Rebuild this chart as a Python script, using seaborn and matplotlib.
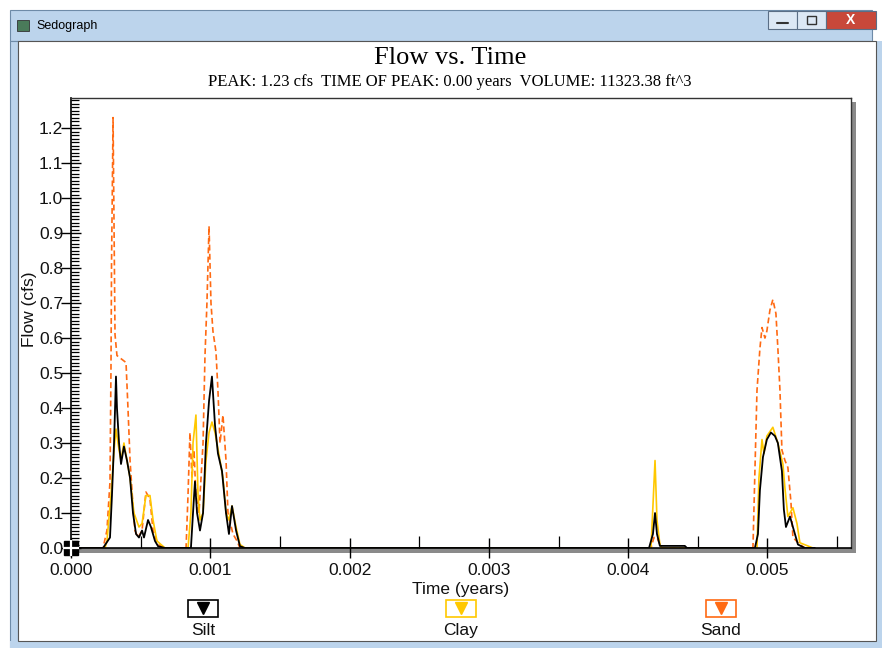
import numpy as np
import pandas as pd
import matplotlib
matplotlib.use("Agg")
import matplotlib.pyplot as plt
import seaborn as sns
from matplotlib.patches import Rectangle
from matplotlib.lines import Line2D
from matplotlib.ticker import MultipleLocator, FormatStrFormatter

# ---------------- data ----------------
silt_t = [0, 0.000230, 0.000280, 0.000294, 0.000309, 0.000323, 0.000330, 0.000345, 0.000359, 0.000380,
          0.000402, 0.000424, 0.000445, 0.000467, 0.000488, 0.000510, 0.000524, 0.000553, 0.000574,
          0.000603, 0.000625, 0.000675,
          0.000861, 0.000876, 0.000890, 0.000905, 0.000926, 0.000948, 0.000969, 0.000991, 0.001012,
          0.001034, 0.001055, 0.001084, 0.001113, 0.001134, 0.001156, 0.001185, 0.001213, 0.001249,
          0.004150, 0.004178, 0.004193, 0.004207, 0.004228, 0.004407, 0.004422,
          0.004910, 0.004932, 0.004946, 0.004968, 0.004996, 0.005025, 0.005054, 0.005075, 0.005104,
          0.005118, 0.005133, 0.005162, 0.005183, 0.005219, 0.005269, 0.005340]
silt_q = [0, 0, 0.03, 0.15, 0.30, 0.49, 0.40, 0.30, 0.24, 0.29,
          0.25, 0.20, 0.10, 0.04, 0.03, 0.05, 0.03, 0.08, 0.06,
          0.02, 0.005, 0,
          0, 0.10, 0.19, 0.10, 0.05, 0.10, 0.30, 0.42, 0.49,
          0.35, 0.27, 0.22, 0.10, 0.04, 0.12, 0.05, 0.005, 0,
          0, 0.04, 0.10, 0.04, 0.006, 0.006, 0,
          0, 0.04, 0.165, 0.26, 0.31, 0.33, 0.32, 0.30, 0.22,
          0.11, 0.06, 0.09, 0.06, 0.01, 0, 0]

clay_t = [0, 0.000244, 0.000258, 0.000287, 0.000309, 0.000323, 0.000345, 0.000359, 0.000380, 0.000424,
          0.000452, 0.000488, 0.000510, 0.000538, 0.000567, 0.000589, 0.000617, 0.000675,
          0.000840, 0.000861, 0.000876, 0.000897, 0.000912, 0.000926, 0.000948, 0.000969, 0.000991,
          0.001012, 0.001034, 0.001070, 0.001091, 0.001113, 0.001134, 0.001156, 0.001185, 0.001213, 0.001249,
          0.004164, 0.004178, 0.004193, 0.004207, 0.004228, 0.004242,
          0.004925, 0.004939, 0.004961, 0.004975, 0.004996, 0.005039, 0.005075, 0.005111, 0.005126,
          0.005147, 0.005183, 0.005212, 0.005233, 0.005327, 0.005340]
clay_q = [0, 0, 0.02, 0.15, 0.28, 0.34, 0.28, 0.25, 0.30, 0.20,
          0.10, 0.06, 0.07, 0.15, 0.15, 0.08, 0.02, 0,
          0, 0.10, 0.30, 0.38, 0.15, 0.08, 0.10, 0.25, 0.33,
          0.36, 0.33, 0.25, 0.20, 0.10, 0.08, 0.12, 0.06, 0.01, 0,
          0, 0.12, 0.25, 0.08, 0.01, 0,
          0, 0.20, 0.31, 0.27, 0.32, 0.345, 0.30, 0.24, 0.17,
          0.09, 0.115, 0.07, 0.015, 0, 0]

sand_t = [0, 0.000230, 0.000258, 0.000280, 0.000287, 0.000291, 0.000302, 0.000316, 0.000330, 0.000395,
          0.000409, 0.000424, 0.000445, 0.000459, 0.000481, 0.000510, 0.000538, 0.000567, 0.000589,
          0.000625, 0.000675,
          0.000826, 0.000840, 0.000854, 0.000869, 0.000883, 0.000897, 0.000919, 0.000948, 0.000962,
          0.000976, 0.000991, 0.001005, 0.001019, 0.001041, 0.001055, 0.001070, 0.001091, 0.001113,
          0.001127, 0.001163, 0.001192, 0.001213,
          0.004164, 0.004185, 0.004207, 0.004228, 0.004242,
          0.004896, 0.004925, 0.004946, 0.004961, 0.004982, 0.004996, 0.005018, 0.005039, 0.005061,
          0.005075, 0.005090, 0.005104, 0.005126, 0.005147, 0.005169, 0.005183, 0.005233, 0.005269]
sand_q = [0, 0, 0.05, 0.19, 0.51, 0.81, 1.23, 0.61, 0.55, 0.53,
          0.40, 0.25, 0.12, 0.05, 0.03, 0.05, 0.16, 0.14, 0.05,
          0.01, 0,
          0, 0.15, 0.33, 0.20, 0.28, 0.15, 0.10, 0.30, 0.55,
          0.70, 0.92, 0.70, 0.62, 0.56, 0.45, 0.30, 0.38, 0.25,
          0.10, 0.04, 0.02, 0,
          0, 0.03, 0.03, 0.01, 0,
          0, 0.45, 0.57, 0.63, 0.60, 0.62, 0.68, 0.71, 0.67,
          0.57, 0.45, 0.28, 0.25, 0.23, 0.13, 0.03, 0.01, 0]

series_names = ["Silt", "Clay", "Sand"]
series_colors = ["#000000", "#FFC800", "#FF6A13"]

title_text = "Flow vs. Time"
subtitle_text = "PEAK: 1.23 cfs  TIME OF PEAK: 0.00 years  VOLUME: 11323.38 ft^3"
window_title = "Sedograph"

# ---------------- figure ----------------
sns.set_theme(style="white")
plt.rcParams["font.family"] = ["Liberation Sans", "DejaVu Sans"]

W, H = 882, 648
fig = plt.figure(figsize=(W / 100, H / 100), dpi=100)
fig.patch.set_facecolor("white")

def fx(x):
    return x / W

def fy(y):
    return 1 - y / H

BG = -10
# window chrome
fig.add_artist(Rectangle((fx(10), fy(41)), fx(872) - fx(10), fy(10) - fy(41),
                         transform=fig.transFigure, facecolor="#BCD4EC", edgecolor="#6E8BA8", lw=0.8, zorder=BG))
fig.add_artist(Rectangle((fx(10), fy(648)), fx(18) - fx(10), fy(41) - fy(648),
                         transform=fig.transFigure, facecolor="#BCD4EC", edgecolor="#6E8BA8", lw=0.8, zorder=BG))
fig.add_artist(Rectangle((fx(876), fy(648)), fx(882) - fx(876), fy(41) - fy(648),
                         transform=fig.transFigure, facecolor="#BCD4EC", edgecolor="none", lw=0, zorder=BG))
fig.add_artist(Rectangle((fx(10), fy(648)), fx(882) - fx(10), fy(641) - fy(648),
                         transform=fig.transFigure, facecolor="#BCD4EC", edgecolor="none", lw=0, zorder=BG))
fig.add_artist(Rectangle((fx(18), fy(641)), fx(876) - fx(18), fy(41) - fy(641),
                         transform=fig.transFigure, facecolor="white", edgecolor="#555555", lw=0.8, zorder=BG + 1))
fig.add_artist(Rectangle((fx(17), fy(31)), fx(29) - fx(17), fy(20) - fy(31),
                         transform=fig.transFigure, facecolor="#4A7A5A", edgecolor="#333333", lw=0.6, zorder=BG + 2))
fig.text(fx(36), fy(26), window_title, fontsize=9, va="center", ha="left", color="#000000",
         family=["Liberation Sans", "DejaVu Sans"])
# window buttons
for x0, x1, c in [(768, 797, "#DCE8F5"), (797, 826, "#DCE8F5"), (826, 876, "#C8483A")]:
    fig.add_artist(Rectangle((fx(x0), fy(29)), fx(x1) - fx(x0), fy(11) - fy(29),
                             transform=fig.transFigure, facecolor=c, edgecolor="#5A6E86", lw=0.8, zorder=BG + 2))
fig.text(fx(851), fy(20), "X", fontsize=10, ha="center", va="center", color="white", weight="bold")
fig.add_artist(Line2D([fx(777), fx(788)], [fy(23), fy(23)], transform=fig.transFigure, color="#333333", lw=1.5,
                      zorder=BG + 3))
fig.add_artist(Rectangle((fx(807), fy(24)), fx(816) - fx(807), fy(16) - fy(24),
                         transform=fig.transFigure, facecolor="none", edgecolor="#333333", lw=1.0, zorder=BG + 3))

# plot axes
ax_left, ax_right, ax_top, ax_bottom = 71, 851, 98, 548
ax = fig.add_axes([fx(ax_left), fy(ax_bottom), fx(ax_right) - fx(ax_left), fy(ax_top) - fy(ax_bottom)])
ax.set_facecolor("white")

# drop shadow of the plot box
fig.add_artist(Rectangle((fx(ax_right), fy(ax_bottom + 5)), fx(5), fy(ax_top + 4) - fy(ax_bottom + 5),
                         transform=fig.transFigure, facecolor="#8A8A8A", edgecolor="none", zorder=BG + 2))
fig.add_artist(Rectangle((fx(ax_left), fy(ax_bottom + 5)), fx(ax_right + 5) - fx(ax_left), fy(ax_bottom) - fy(ax_bottom + 5),
                         transform=fig.transFigure, facecolor="#8A8A8A", edgecolor="none", zorder=BG + 2))

series = [(silt_t, silt_q), (clay_t, clay_q), (sand_t, sand_q)]
styles = ["-", "-", "--"]
widths = [1.3, 1.2, 1.2]
draw_order = [2, 1, 0]
for i in draw_order:
    t, q = series[i]
    df = pd.DataFrame({"t": t, "q": q})
    sns.lineplot(data=df, x="t", y="q", ax=ax, color=series_colors[i], linestyle=styles[i],
                 linewidth=widths[i], estimator=None, sort=False, legend=False)
for l in ax.lines:
    if l.get_linestyle() == "--":
        l.set_dashes((3.5, 2.0))

ax.set_xlim(0, 0.0056)
ax.set_ylim(0, 1.286)

ax.xaxis.set_major_locator(MultipleLocator(0.001))
ax.xaxis.set_minor_locator(MultipleLocator(0.0005))
ax.xaxis.set_major_formatter(FormatStrFormatter("%.3f"))
ax.yaxis.set_major_locator(MultipleLocator(0.1))
ax.yaxis.set_minor_locator(MultipleLocator(0.01))
ax.yaxis.set_major_formatter(FormatStrFormatter("%.1f"))

ax.tick_params(axis="both", which="major", direction="inout", length=14, width=1.0, color="#000000",
               labelsize=12.5, labelcolor="#111111")
ax.tick_params(axis="x", which="major", pad=4)
ax.tick_params(axis="y", which="major", pad=-1.5)
ax.tick_params(axis="both", which="minor", direction="in", length=6, width=0.9, color="#000000")
ax.tick_params(axis="x", which="minor", length=9)
ax.tick_params(bottom=True, left=True, which="both")

for side in ["top", "right"]:
    ax.spines[side].set_color("#333333")
    ax.spines[side].set_linewidth(1.0)
for side in ["left", "bottom"]:
    ax.spines[side].set_color("#000000")
    ax.spines[side].set_linewidth(1.2)

ax.set_xlabel("Time (years)", fontsize=12.5, color="#111111", labelpad=3)
ax.set_ylabel("Flow (cfs)", fontsize=12.5, color="#111111")
ax.yaxis.set_label_coords(-0.044, 0.53)

# origin marker
ax.plot([0], [0], marker="s", markersize=10, color="black", clip_on=False, zorder=6)
ax.plot([0], [0], marker="+", markersize=11, markeredgewidth=1.6, color="white", clip_on=False, zorder=7)

# titles
fig.text(fx(450), fy(58), title_text, fontsize=19, ha="center", va="center",
         family=["Liberation Serif", "DejaVu Serif"], color="#000000")
fig.text(fx(450), fy(82), subtitle_text, fontsize=12, ha="center", va="center",
         family=["Liberation Serif", "DejaVu Serif"], color="#000000")

# legend (boxed triangles above names)
legend_x = [203, 461, 721]
for name, col, lx in zip(series_names, series_colors, legend_x):
    fig.add_artist(Rectangle((fx(lx - 15), fy(617)), fx(30), fy(600) - fy(617),
                             transform=fig.transFigure, facecolor="white", edgecolor=col, lw=1.2))
    fig.add_artist(Line2D([fx(lx)], [fy(608)], transform=fig.transFigure, marker="v",
                          markersize=8, color=col, linestyle="none"))
    fig.text(fx(lx), fy(635), name, fontsize=12.5, ha="center", va="baseline", color="#111111")

fig.savefig("out.png", dpi=100, facecolor=fig.get_facecolor())
